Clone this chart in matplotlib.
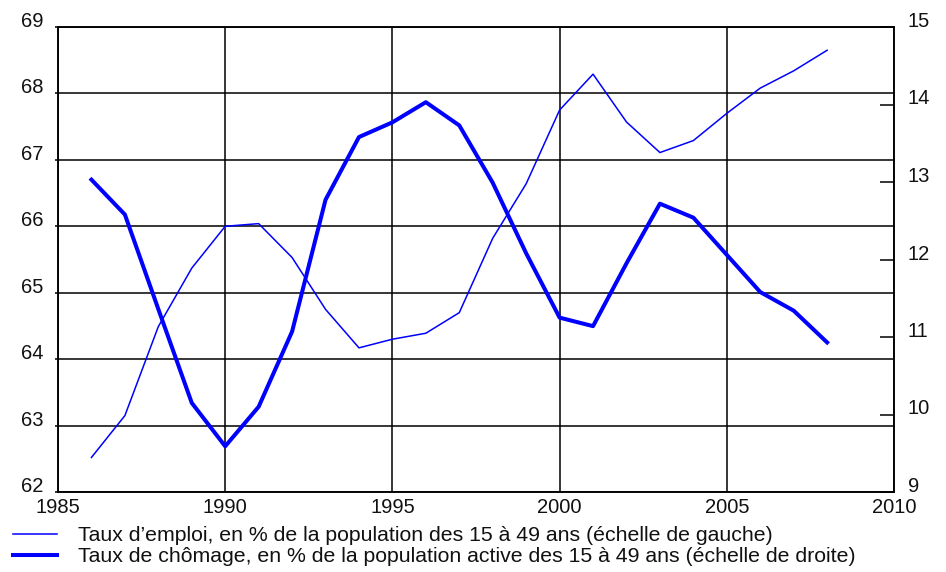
import matplotlib
matplotlib.use("Agg")
import matplotlib.pyplot as plt

years = list(range(1986, 2009))
taux_emploi = [62.52, 63.15, 64.49, 65.37, 66.00, 66.04, 65.53, 64.75, 64.17, 64.30,
               64.39, 64.70, 65.82, 66.64, 67.75, 68.29, 67.57, 67.11, 67.29, 67.70,
               68.08, 68.34, 68.65]
taux_chomage = [13.03, 12.58, 11.36, 10.15, 9.59, 10.10, 11.07, 12.77, 13.58, 13.77,
                14.03, 13.73, 12.99, 12.08, 11.25, 11.14, 11.95, 12.72, 12.54, 12.06,
                11.58, 11.34, 10.93]
x_ticks = [1985, 1990, 1995, 2000, 2005, 2010]
left_ticks = [62, 63, 64, 65, 66, 67, 68, 69]
right_ticks = [9, 10, 11, 12, 13, 14, 15]
labels = ["Taux d\u2019emploi, en % de la population des 15 \u00e0 49 ans (\u00e9chelle de gauche)",
          "Taux de ch\u00f4mage, en % de la population active des 15 \u00e0 49 ans (\u00e9chelle de droite)"]

plt.rcParams['font.family'] = ['Liberation Sans', 'DejaVu Sans']
W, H = 946, 572
fig = plt.figure(figsize=(W / 100, H / 100), dpi=100)
ax = fig.add_axes([58 / W, 1 - 492 / H, (894 - 58) / W, (492 - 27) / H])
ax2 = ax.twinx()

blue = '#0000FF'
l1, = ax.plot(years, taux_emploi, color=blue, lw=1.1, zorder=3)
l2, = ax2.plot(years, taux_chomage, color=blue, lw=2.9, zorder=3)

ax.set_xlim(1985, 2010)
ax.set_ylim(62, 69)
ax2.set_ylim(9, 15)
ax.set_xticks(x_ticks)
ax.set_yticks(left_ticks)
ax2.set_yticks(right_ticks)
ax.grid(True, color='black', lw=1.1)
ax.set_axisbelow(True)
for a in (ax, ax2):
    for s in a.spines.values():
        s.set_color('black')
        s.set_linewidth(1.1)
fs = 14.5
ax.tick_params(axis='y', direction='out', length=2.5, width=1.1, labelsize=fs, pad=8)
ax.tick_params(axis='x', length=0, labelsize=fs, pad=4)
ax2.tick_params(axis='y', direction='in', length=10, width=1.1, labelsize=fs, pad=10)
for lab in ax.get_yticklabels() + ax2.get_yticklabels():
    lab.set_verticalalignment('baseline')
for lab in ax.get_xticklabels() + ax.get_yticklabels() + ax2.get_yticklabels():
    lab.set_color('#111111')

leg = fig.legend([l1, l2], labels, loc='upper left', bbox_to_anchor=(13 / W, 1 - 526 / H),
                 frameon=False, fontsize=15.3, handlelength=2.05, handletextpad=1.03,
                 labelspacing=0.1, borderaxespad=0, borderpad=0)
for t in leg.get_texts():
    t.set_color('#111111')

fig.savefig('out.png', dpi=100)
